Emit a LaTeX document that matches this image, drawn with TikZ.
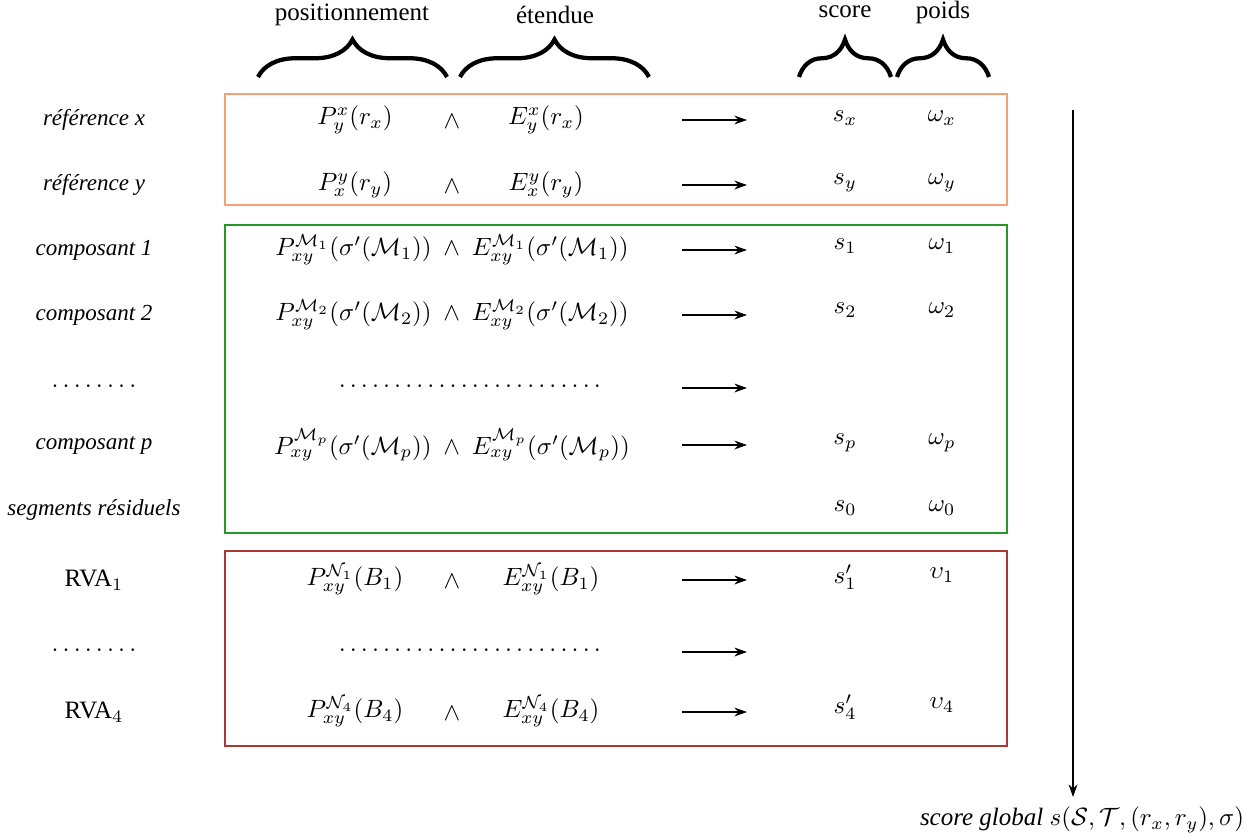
\documentclass[tikz,border=0pt]{standalone}
\usepackage[no-math]{fontspec}
\setmainfont{Liberation Serif}
\usetikzlibrary{decorations.pathreplacing,arrows.meta}
\definecolor{boxorange}{RGB}{247,160,115}
\definecolor{boxgreen}{RGB}{40,150,40}
\definecolor{boxred}{RGB}{170,55,55}
\begin{document}
\begin{tikzpicture}[x=0.4pt,y=-0.4pt,
  lbl/.style={font=\fontsize{9.2}{11}\selectfont\itshape, inner sep=1pt},
  plain/.style={inner sep=1pt},
  head/.style={inner sep=1pt},
  hbrace/.style={decorate, decoration={brace, amplitude=15pt}, line width=1.7pt},
  flow/.style={-{Stealth[length=5pt,width=3.5pt]}, line width=0.8pt},
  frame/.style={line width=0.6pt}]
\useasboundingbox (0,0) rectangle (1253,839);

% headers
\node[head] (hpos) at (352,15) {positionnement};
\node[head] (hete) at (555,15) {étendue};
\node[head] (hsco) at (845,12) {score};
\node[head] (hpoi) at (943,12) {poids};
\draw[hbrace] (258,77) -- (447,77);
\draw[hbrace] (460,77) -- (649,77);
\draw[hbrace] (799,77) -- (891,77);
\draw[hbrace] (897,77) -- (989,77);

% frames
\draw[frame, boxorange] (225,94) rectangle (1007,205);
\draw[frame, boxgreen] (225,225) rectangle (1007,533);
\draw[frame, boxred] (225,551) rectangle (1007,746);

% left labels
\node[lbl] (l1) at (94,120) {référence x};
\node[lbl] (l2) at (94,185) {référence y};
\node[lbl] (l3) at (94,250) {composant 1};
\node[lbl] (l4) at (94,315) {composant 2};
\node[plain] (l5) at (94,386) {$\ldotp\ldotp\ldotp\ldotp\ldotp\ldotp\ldotp\ldotp$};
\node[lbl] (l6) at (94,445) {composant p};
\node[lbl] (l7) at (94,510) {segments résiduels};
\node[plain] (l8) at (94,580) {RVA$_1$};
\node[plain] (l9) at (94,650) {$\ldotp\ldotp\ldotp\ldotp\ldotp\ldotp\ldotp\ldotp$};
\node[plain] (l10) at (94,712) {RVA$_4$};

% formulas
\node[plain] (p1) at (355,120) {$P_y^x(r_x)$};
\node[plain] (w1) at (452,122) {$\wedge$};
\node[plain] (e1) at (546,120) {$E_y^x(r_x)$};
\node[plain] (p2) at (355,185) {$P_x^y(r_y)$};
\node[plain] (w2) at (452,187) {$\wedge$};
\node[plain] (e2) at (546,185) {$E_x^y(r_y)$};
\node[plain] (f3) at (452,250) {$P_{xy}^{\mathcal{M}_1}(\sigma'(\mathcal{M}_1))\ \wedge\ E_{xy}^{\mathcal{M}_1}(\sigma'(\mathcal{M}_1))$};
\node[plain] (f4) at (452,315) {$P_{xy}^{\mathcal{M}_2}(\sigma'(\mathcal{M}_2))\ \wedge\ E_{xy}^{\mathcal{M}_2}(\sigma'(\mathcal{M}_2))$};
\node[plain] (f5) at (470,386) {$\ldotp\ldotp\ldotp\ldotp\ldotp\ldotp\ldotp\ldotp\ldotp\ldotp\ldotp\ldotp\ldotp\ldotp\ldotp\ldotp\ldotp\ldotp\ldotp\ldotp\ldotp\ldotp\ldotp\ldotp$};
\node[plain] (f6) at (452,445) {$P_{xy}^{\mathcal{M}_p}(\sigma'(\mathcal{M}_p))\ \wedge\ E_{xy}^{\mathcal{M}_p}(\sigma'(\mathcal{M}_p))$};
\node[plain] (p8) at (355,580) {$P_{xy}^{\mathcal{N}_1}(B_1)$};
\node[plain] (w8) at (452,582) {$\wedge$};
\node[plain] (e8) at (551,580) {$E_{xy}^{\mathcal{N}_1}(B_1)$};
\node[plain] (f9) at (470,650) {$\ldotp\ldotp\ldotp\ldotp\ldotp\ldotp\ldotp\ldotp\ldotp\ldotp\ldotp\ldotp\ldotp\ldotp\ldotp\ldotp\ldotp\ldotp\ldotp\ldotp\ldotp\ldotp\ldotp\ldotp$};
\node[plain] (p10) at (355,712) {$P_{xy}^{\mathcal{N}_4}(B_4)$};
\node[plain] (w10) at (452,714) {$\wedge$};
\node[plain] (e10) at (551,712) {$E_{xy}^{\mathcal{N}_4}(B_4)$};

% scores and weights
\node[plain] (s1) at (845,118) {$s_x$};
\node[plain] (o1) at (942,118) {$\omega_x$};
\node[plain] (s2) at (845,183) {$s_y$};
\node[plain] (o2) at (942,183) {$\omega_y$};
\node[plain] (s3) at (845,246) {$s_1$};
\node[plain] (o3) at (942,246) {$\omega_1$};
\node[plain] (s4) at (845,310) {$s_2$};
\node[plain] (o4) at (942,310) {$\omega_2$};
\node[plain] (s6) at (845,443) {$s_p$};
\node[plain] (o6) at (942,443) {$\omega_p$};
\node[plain] (s7) at (845,508) {$s_0$};
\node[plain] (o7) at (942,508) {$\omega_0$};
\node[plain] (s8) at (845,577) {$s'_1$};
\node[plain] (o8) at (942,575) {$\upsilon_1$};
\node[plain] (s10) at (845,707) {$s'_4$};
\node[plain] (o10) at (942,705) {$\upsilon_4$};

% row arrows
\foreach \n/\y in {1/120,2/185,3/250,4/315,5/388,6/445,8/580,9/652,10/712} {
  \coordinate (a\n) at (682,\y);
  \coordinate (b\n) at (747,\y);
  \draw[flow] (a\n) -- (b\n);
}

% global score
\node[inner sep=2pt] (glob) at (1082,820) {\textit{score global} $s(\mathcal{S},\mathcal{T},(r_x,r_y),\sigma)$};
\coordinate (vtop) at (1073,110);
\coordinate (vbot) at (1073,797);
\draw[flow] (vtop) -- (vbot);
\end{tikzpicture}
\end{document}
